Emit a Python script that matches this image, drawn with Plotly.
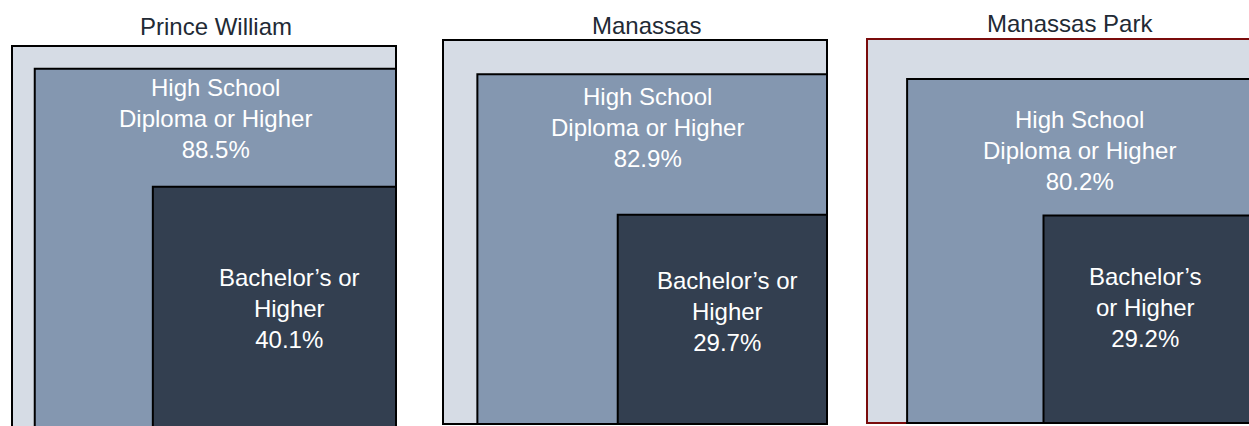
import math
import plotly.graph_objects as go

# ---------------- data ----------------
places = ["Prince William", "Manassas", "Manassas Park"]
total_pct = [100.0, 100.0, 100.0]
hs_pct = [88.5, 82.9, 80.2]
ba_pct = [40.1, 29.7, 29.2]
hs_text = ["High School<br>Diploma or Higher"] * 3
ba_text = ["Bachelor’s or<br>Higher", "Bachelor’s or<br>Higher", "Bachelor’s<br>or Higher"]

# ---------------- layout / style ----------------
W, H = 1249, 426
S = 38.4                     # pixels per unit of square side (side = sqrt(pct))
dom_px = [(0, 420), (420, 840), (840, 1249)]
right_px = [396, 827, 1251]
bottom_px = [430, 424, 423]
outer_line = ["#000000", "#000000", "#7a0c0c"]
C_OUT, C_HS, C_BA = "#d6dce5", "#8497b0", "#333f50"
TITLE_C = "#222a35"
FONT = "Liberation Sans, Arial, sans-serif"
title_shift = [(12, 20), (11, 15), (11, 16)]
hs_shift = [(0, -50), (-5, -53), (0, -71)]
ba_shift = [(15, 0), (5, 8), (-2, 12)]

fig = go.Figure()
shapes, annotations = [], []

for k in range(3):
    ax = "" if k == 0 else str(k + 1)
    xr, yr = "x" + ax, "y" + ax
    d0, d1 = dom_px[k]
    R, B = right_px[k], bottom_px[k]
    fig.update_layout(**{
        ("xaxis" + ax): dict(domain=[d0 / W, d1 / W], range=[-(R - d0) / S, (d1 - R) / S],
                             visible=False, fixedrange=True, anchor=yr),
        ("yaxis" + ax): dict(domain=[0, 1], range=[(B - H) / S, B / S],
                             visible=False, fixedrange=True, anchor=xr),
    })
    fig.add_trace(go.Scatter(x=[None], y=[None], xaxis=xr, yaxis=yr,
                             showlegend=False, hoverinfo="skip"))

    s_out = math.sqrt(total_pct[k])
    s_hs = math.sqrt(hs_pct[k])
    s_ba = math.sqrt(ba_pct[k])
    for side, fill, lc in [(s_out, C_OUT, outer_line[k]),
                           (s_hs, C_HS, "#000000"),
                           (s_ba, C_BA, "#000000")]:
        shapes.append(dict(type="rect", xref=xr, yref=yr, x0=-side, x1=0, y0=0, y1=side,
                           fillcolor=fill, line=dict(color=lc, width=2), layer="above"))

    annotations.append(dict(xref=xr, yref=yr, x=-s_out / 2, y=s_out, text=places[k],
                            showarrow=False, xanchor="center", yanchor="middle",
                            xshift=title_shift[k][0], yshift=title_shift[k][1],
                            font=dict(family=FONT, size=24, color=TITLE_C)))
    annotations.append(dict(xref=xr, yref=yr, x=-s_hs / 2, y=s_hs,
                            text=f"{hs_text[k]}<br>{hs_pct[k]:.1f}%",
                            showarrow=False, xanchor="center", yanchor="middle",
                            xshift=hs_shift[k][0], yshift=hs_shift[k][1],
                            font=dict(family=FONT, size=24, color="white")))
    annotations.append(dict(xref=xr, yref=yr, x=-s_ba / 2, y=s_ba / 2,
                            text=f"{ba_text[k]}<br>{ba_pct[k]:.1f}%",
                            showarrow=False, xanchor="center", yanchor="middle",
                            xshift=ba_shift[k][0], yshift=ba_shift[k][1],
                            font=dict(family=FONT, size=24, color="white")))

fig.update_layout(width=W, height=H, margin=dict(l=0, r=0, t=0, b=0),
                  paper_bgcolor="white", plot_bgcolor="white",
                  shapes=shapes, annotations=annotations, showlegend=False)

fig.write_html("out.html", config={"displayModeBar": False, "staticPlot": True},
               post_script="document.body.style.margin='0';document.body.style.overflow='hidden';")
